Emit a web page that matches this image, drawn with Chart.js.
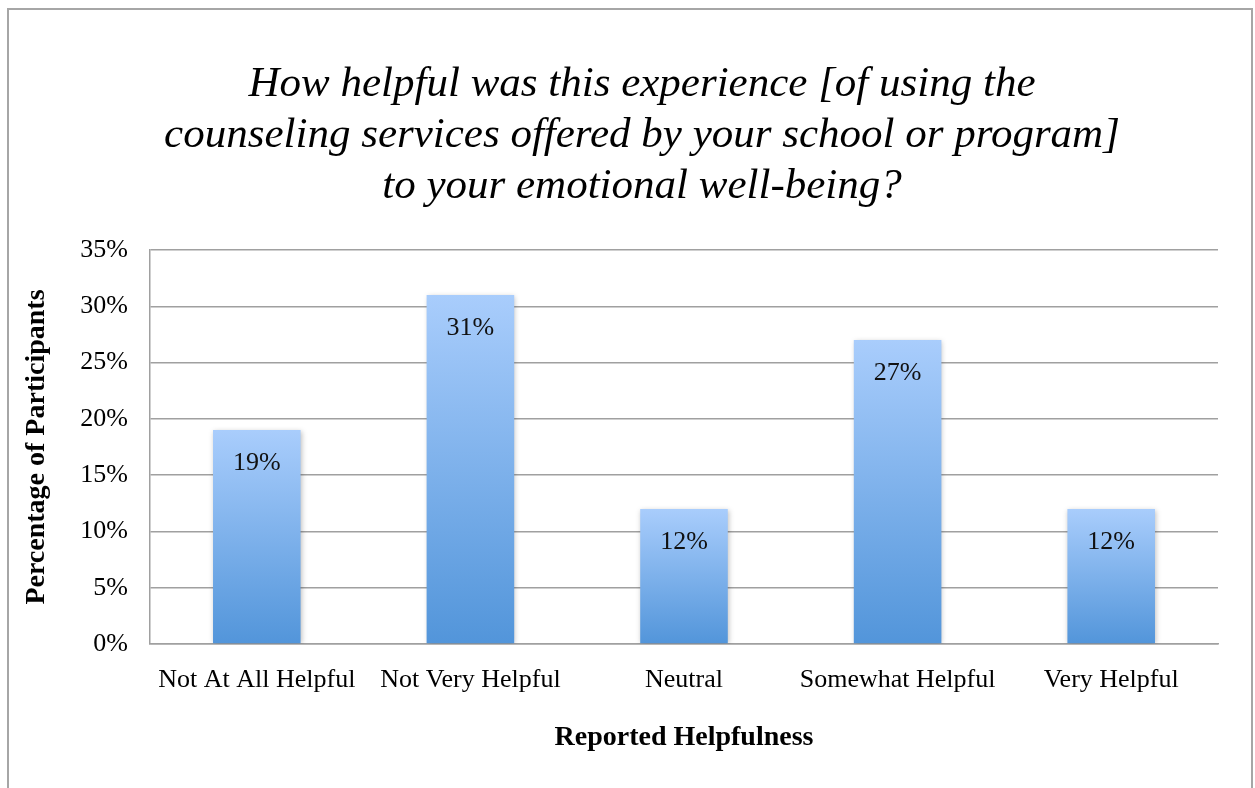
<!DOCTYPE html>
<html>
<head>
<meta charset="utf-8">
<script src="https://cdn.jsdelivr.net/npm/chart.js@4"></script>
<style>
  html, body { margin: 0; padding: 0; background: #fff; }
  #wrap { position: relative; width: 1255px; height: 788px; }
</style>
</head>
<body>
<div id="wrap"><canvas id="helpChart" width="1255" height="788"></canvas></div>
<script>
// Survey answers and share of participants (%)
const categories = ['Not At All Helpful', 'Not Very Helpful', 'Neutral', 'Somewhat Helpful', 'Very Helpful'];
const percentages = [19, 31, 12, 27, 12];
const yTicks = [0, 5, 10, 15, 20, 25, 30, 35];

const titleLines = [
  'How helpful was this experience [of using the',
  'counseling services offered by your school or program]',
  'to your emotional well-being?'
];

const serif = "'Liberation Serif', 'Times New Roman', serif";

// light-to-dark blue fill running down each bar
function barFill(ctx) {
  const chart = ctx.chart;
  const y = chart.scales.y;
  if (!chart.chartArea || !y) return '#7fb2ea';
  const top = y.getPixelForValue(ctx.raw);
  const base = y.getPixelForValue(0);
  const g = chart.ctx.createLinearGradient(0, top, 0, base);
  g.addColorStop(0, '#a9cdfc');
  g.addColorStop(1, '#5295da');
  return g;
}

// frame round the whole chart
const frame = {
  id: 'frame',
  beforeDraw(chart) {
    const c = chart.ctx;
    c.save();
    c.strokeStyle = '#a6a6a6';
    c.lineWidth = 2;
    c.strokeRect(8, 9, 1244, 800);
    c.restore();
  }
};

// three-line italic heading, centred on the page rather than the plot
const heading = {
  id: 'heading',
  afterDraw(chart) {
    const c = chart.ctx;
    c.save();
    c.font = 'italic 43px ' + serif;
    c.fillStyle = '#000';
    c.textAlign = 'center';
    c.textBaseline = 'middle';
    titleLines.forEach((line, i) => c.fillText(line, 642, 85 + i * 51));
    c.restore();
  }
};

// soft shadow behind the bars
const barShadow = {
  id: 'barShadow',
  beforeDatasetsDraw(chart) {
    const c = chart.ctx;
    c.save();
    c.shadowColor = 'rgba(0,0,0,0.25)';
    c.shadowBlur = 5;
    c.shadowOffsetX = 1;
    c.shadowOffsetY = 1;
  },
  afterDatasetsDraw(chart) {
    chart.ctx.restore();
  }
};

// value printed just inside the top of each bar
const valueLabels = {
  id: 'valueLabels',
  afterDraw(chart) {
    const c = chart.ctx;
    const meta = chart.getDatasetMeta(0);
    c.save();
    c.font = '26px ' + serif;
    c.fillStyle = '#111';
    c.textAlign = 'center';
    c.textBaseline = 'middle';
    meta.data.forEach((bar, i) => {
      c.fillText(percentages[i] + '%', bar.x, bar.y + 33);
    });
    c.restore();
  }
};

new Chart(document.getElementById('helpChart'), {
  type: 'bar',
  data: {
    labels: categories,
    datasets: [{
      label: 'Percentage of Participants',
      data: percentages,
      backgroundColor: barFill,
      borderWidth: 0,
      categoryPercentage: 1,
      barPercentage: 0.41
    }]
  },
  options: {
    responsive: false,
    animation: false,
    layout: { padding: { left: 8, right: 37, top: 250, bottom: 0 } },
    plugins: {
      legend: { display: false },
      tooltip: { enabled: false },
      title: { display: false }
    },
    scales: {
      x: {
        grid: { display: false },
        border: { display: true, color: '#a0a0a0', width: 1.5 },
        ticks: { color: '#000', font: { family: serif, size: 26 }, padding: 13, maxRotation: 0 },
        title: {
          display: true,
          text: 'Reported Helpfulness',
          color: '#000',
          font: { family: serif, size: 28, weight: 'bold' },
          padding: { top: 20, bottom: 33 }
        },
        afterFit(scale) { scale.height = 144; }
      },
      y: {
        min: 0,
        max: 35,
        afterBuildTicks(scale) { scale.ticks = yTicks.map(v => ({ value: v })); },
        grid: { color: '#a0a0a0', lineWidth: 1.5, drawTicks: false },
        border: { display: true, color: '#a0a0a0', width: 1.5 },
        ticks: {
          color: '#000',
          font: { family: serif, size: 26 },
          padding: 22,
          callback: v => v + '%'
        },
        title: {
          display: true,
          text: 'Percentage of Participants',
          color: '#000',
          font: { family: serif, size: 28, weight: 'bold' },
          padding: { top: 11.5, bottom: 0 }
        },
        afterFit(scale) { scale.width = 142; }
      }
    }
  },
  plugins: [frame, heading, barShadow, valueLabels]
});
</script>
</body>
</html>
